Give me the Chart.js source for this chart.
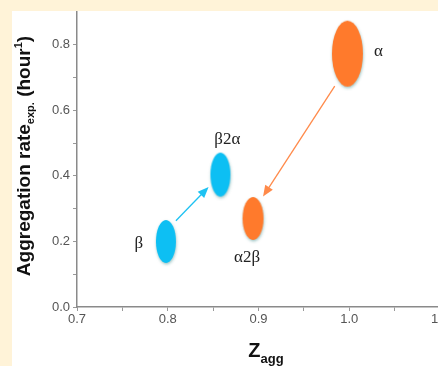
<!DOCTYPE html>
<html>
<head>
<meta charset="utf-8">
<script src="https://cdn.jsdelivr.net/npm/chart.js@4.4.1/dist/chart.umd.min.js"></script>
<style>
  html, body { margin: 0; padding: 0; background: #fff3d8; overflow: hidden; width: 438px; height: 366px; }
  #panel { position: absolute; left: 12px; top: 11px; width: 460px; height: 355px; background: #fff; }
</style>
</head>
<body>
<div id="panel"><canvas id="chart" width="460" height="355"></canvas></div>
<script>
// data
var names   = ['β', 'β2α', 'α2β', 'α']
var zAgg    = [0.798, 0.858, 0.894, 0.998]
var rates   = [0.200, 0.404, 0.270, 0.773]
var groups  = ['blue', 'blue', 'orange', 'orange']

// arrows: from -> to, in data units
var arrowFromX = [0.809, 0.984]
var arrowFromY = [0.263, 0.674]
var arrowToX   = [0.845, 0.905]
var arrowToY   = [0.366, 0.337]
var arrowGroup = ['blue', 'orange']

var xTicks = [0.7, 0.8, 0.9, 1.0, 1.1]
var yTicks = [0.0, 0.2, 0.4, 0.6, 0.8]

var colors = {
  blue:   { fill: '#0dbff3', line: '#1ec2f2' },
  orange: { fill: '#ff7a2c', line: '#ff8a4a' },
}

// ellipse sprite used as point style
function ellipse(color, rx, ry) {
  var c = document.createElement('canvas')
  c.width = rx * 2 + 8
  c.height = ry * 2 + 8
  var g = c.getContext('2d')
  g.shadowColor = 'rgba(80,150,150,0.55)'
  g.shadowBlur = 3
  g.shadowOffsetX = 0.5
  g.shadowOffsetY = 1.5
  g.beginPath()
  g.ellipse(c.width / 2, c.height / 2, rx, ry, 0, 0, Math.PI * 2)
  g.fillStyle = color
  g.fill()
  return c
}

var sizes = [[10, 21.5], [10, 22], [10.5, 21.5], [15.5, 33]]
var sprites = names.map((n, i) => ellipse(colors[groups[i]].fill, sizes[i][0], sizes[i][1]))

var labelOffsets = [[-27, 2], [7, -35], [-6, 39], [31, -2]]

var extras = {
  id: 'extras',
  beforeDatasetsDraw(chart) {
    var ctx = chart.ctx, xs = chart.scales.x, ys = chart.scales.y
    arrowFromX.forEach((fx, i) => {
      var x1 = xs.getPixelForValue(fx), y1 = ys.getPixelForValue(arrowFromY[i])
      var x2 = xs.getPixelForValue(arrowToX[i]), y2 = ys.getPixelForValue(arrowToY[i])
      var a = Math.atan2(y2 - y1, x2 - x1)
      var col = colors[arrowGroup[i]].line
      ctx.save()
      ctx.strokeStyle = col
      ctx.fillStyle = col
      ctx.lineWidth = 1.3
      ctx.beginPath()
      ctx.moveTo(x1, y1)
      ctx.lineTo(x2 - 8 * Math.cos(a), y2 - 8 * Math.sin(a))
      ctx.stroke()
      ctx.beginPath()
      ctx.moveTo(x2, y2)
      ctx.lineTo(x2 - 11 * Math.cos(a) + 4.5 * Math.sin(a), y2 - 11 * Math.sin(a) - 4.5 * Math.cos(a))
      ctx.lineTo(x2 - 11 * Math.cos(a) - 4.5 * Math.sin(a), y2 - 11 * Math.sin(a) + 4.5 * Math.cos(a))
      ctx.closePath()
      ctx.fill()
      ctx.restore()
    })
  },
  afterDraw(chart) {
    var ctx = chart.ctx
    var meta = chart.getDatasetMeta(0)
    ctx.save()
    ctx.fillStyle = '#222'
    ctx.font = '17px "Liberation Serif", "DejaVu Serif", serif'
    ctx.textAlign = 'center'
    ctx.textBaseline = 'middle'
    names.forEach((n, i) => {
      var p = meta.data[i]
      ctx.fillText(n, p.x + labelOffsets[i][0], p.y + labelOffsets[i][1])
    })

    // y title with subscript and superscript
    var big = 'bold 19px "Liberation Sans", Arial, sans-serif'
    var small = 'bold 11px "Liberation Sans", Arial, sans-serif'
    var parts = [
      ['Aggregation rate', big, 0],
      ['exp.', small, 4],
      [' (hour', big, 0],
      ['1', small, -8],
      [')', big, 0],
    ]
    var total = 0
    parts.forEach(p => { ctx.font = p[1]; total += ctx.measureText(p[0]).width })
    ctx.translate(12, 145)
    ctx.rotate(-Math.PI / 2)
    ctx.textAlign = 'left'
    ctx.textBaseline = 'alphabetic'
    ctx.fillStyle = '#111'
    var x = -total / 2
    parts.forEach(p => {
      ctx.font = p[1]
      ctx.fillText(p[0], x, 6 + p[2])
      x += ctx.measureText(p[0]).width
    })
    ctx.restore()

    // x title Z_agg
    ctx.save()
    ctx.fillStyle = '#111'
    ctx.textBaseline = 'alphabetic'
    ctx.font = 'bold 20px "Liberation Sans", Arial, sans-serif'
    var wz = ctx.measureText('Z').width
    ctx.font = 'bold 13px "Liberation Sans", Arial, sans-serif'
    var wa = ctx.measureText('agg').width
    var sx = 254 - (wz + wa) / 2
    ctx.font = 'bold 20px "Liberation Sans", Arial, sans-serif'
    ctx.fillText('Z', sx, 346)
    ctx.font = 'bold 13px "Liberation Sans", Arial, sans-serif'
    ctx.fillText('agg', sx + wz, 352)
    ctx.restore()
  }
}

new Chart(document.getElementById('chart'), {
  type: 'scatter',
  data: {
    datasets: [{
      data: names.map((n, i) => ({ x: zAgg[i], y: rates[i] })),
      pointStyle: sprites,
      pointRadius: 1,
      pointHoverRadius: 1,
      borderWidth: 0,
    }],
  },
  options: {
    responsive: false,
    animation: false,
    events: [],
    layout: { padding: { top: 1, right: 32, bottom: 0, left: 0 }, autoPadding: false },
    plugins: { legend: { display: false }, tooltip: { enabled: false } },
    scales: {
      x: {
        type: 'linear',
        min: 0.7,
        max: 1.1,
        afterFit: (s) => { s.height = 59; s.paddingLeft = 0; s.paddingRight = 0 },
        afterBuildTicks: (s) => {
          s.ticks = [0.7, 0.75, 0.8, 0.85, 0.9, 0.95, 1.0, 1.05, 1.1].map(v => ({ value: v }))
        },
        ticks: {
          autoSkip: false,
          maxRotation: 0,
          padding: 1,
          color: '#555',
          font: { family: '"Liberation Sans", Arial, sans-serif', size: 13 },
          callback: (v) => {
            var t = xTicks.find(k => Math.abs(k - v) < 1e-6)
            return t === undefined ? '' : t.toFixed(1)
          },
        },
        grid: { drawOnChartArea: false, drawTicks: true, tickLength: 4, color: '#999' },
        border: { color: '#8a8a8a', width: 1.5 },
      },
      y: {
        min: 0,
        max: 0.9,
        afterFit: (s) => { s.width = 65; s.paddingTop = 0; s.paddingBottom = 0 },
        afterBuildTicks: (s) => {
          s.ticks = [0, 0.1, 0.2, 0.3, 0.4, 0.5, 0.6, 0.7, 0.8].map(v => ({ value: v }))
        },
        ticks: {
          autoSkip: false,
          padding: 3,
          color: '#555',
          font: { family: '"Liberation Sans", Arial, sans-serif', size: 13 },
          callback: (v) => {
            var t = yTicks.find(k => Math.abs(k - v) < 1e-6)
            return t === undefined ? '' : t.toFixed(1)
          },
        },
        grid: { drawOnChartArea: false, drawTicks: true, tickLength: 4, color: '#999' },
        border: { color: '#8a8a8a', width: 1.5 },
      },
    },
  },
  plugins: [extras],
})
</script>
</body>
</html>
